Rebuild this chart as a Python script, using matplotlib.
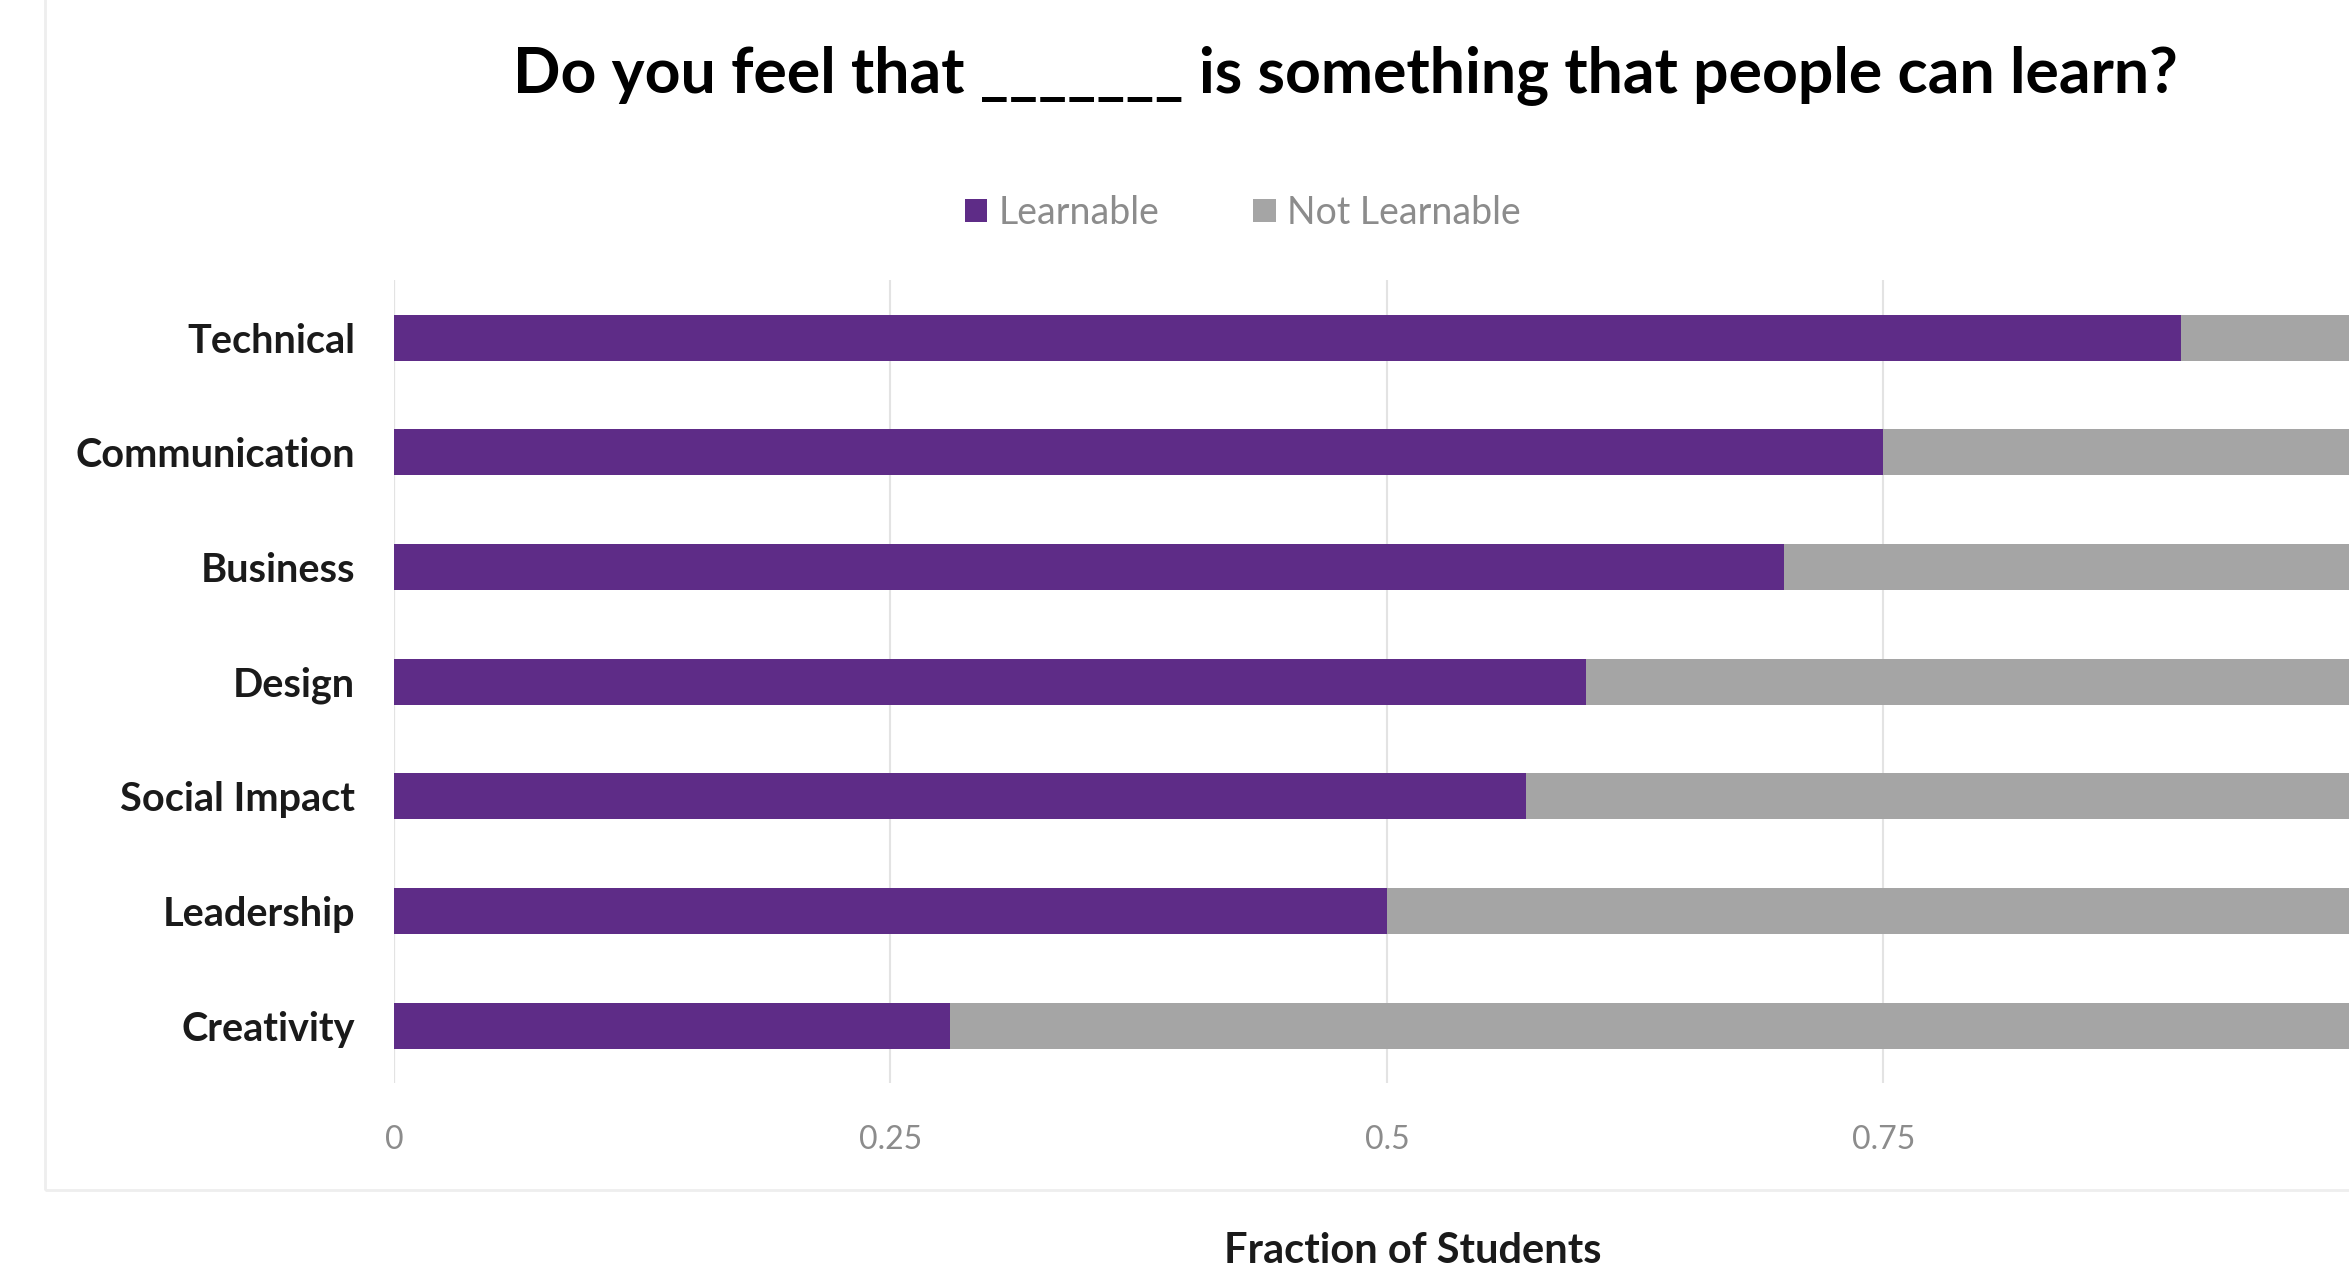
import numpy as np
import matplotlib.pyplot as plt
from matplotlib.patches import Rectangle

categories = ['Technical', 'Communication', 'Business', 'Design',
              'Social Impact', 'Leadership', 'Creativity']
learnable = [0.90, 0.75, 0.70, 0.60, 0.57, 0.50, 0.28]
not_learnable = [1 - v for v in learnable]
# the 1.0 tick falls outside the cropped picture
xticks = [0, 0.25, 0.5, 0.75]
xtick_labels = ['0', '0.25', '0.5', '0.75']

purple = '#5e2c87'
grey = '#a5a5a5'

plt.rcParams['font.family'] = ['Lato', 'DejaVu Sans']

fig = plt.figure(figsize=(23.49, 12.74), dpi=100)

# faint chart-area border like the original export
fig.patches.append(Rectangle((0.019, 0.066), 1.2, 1.2, transform=fig.transFigure,
                             facecolor='none', edgecolor='#eeeeee', linewidth=2))

# axes run past the right edge (the source image is cropped)
ax = fig.add_axes([0.1677, 0.150, 0.8455, 0.630])

y = np.arange(len(categories))
ax.barh(y, learnable, height=0.4, color=purple, label='Learnable', zorder=3)
ax.barh(y, not_learnable, left=learnable, height=0.4, color=grey,
        label='Not Learnable', zorder=3)

ax.set_ylim(len(categories) - 0.5, -0.5)
ax.set_xlim(0, 1)
ax.set_yticks(y)
ax.set_yticklabels(categories, fontsize=28.5, fontweight='bold', color='#1a1a1a')
ax.set_xticks(xticks)
ax.set_xticklabels(xtick_labels, fontsize=23, color='#8c8c8c')
ax.tick_params(axis='y', length=0, pad=28)
ax.tick_params(axis='x', length=0, pad=30)

for s in ax.spines.values():
    s.set_visible(False)
ax.grid(axis='x', color='#e3e3e3', linewidth=1.5, zorder=0)
ax.axvline(0, color='#d9d9d9', linewidth=1.5, zorder=1)

fig.text(0.5726, 0.941, 'Do you feel that _______ is something that people can learn?',
         ha='center', va='center', fontsize=45, fontweight='bold', color='black')
fig.text(0.6015, 0.018, 'Fraction of Students', ha='center', va='center',
         fontsize=30, fontweight='bold', color='#1a1a1a')

leg = fig.legend(loc='center', bbox_to_anchor=(0.529, 0.833), ncol=2, frameon=False,
                 fontsize=27, handlelength=0.6, handleheight=0.6, columnspacing=2.5,
                 handletextpad=0.3)
for t in leg.get_texts():
    t.set_color('#8c8c8c')

fig.savefig('out.png', dpi=100)
